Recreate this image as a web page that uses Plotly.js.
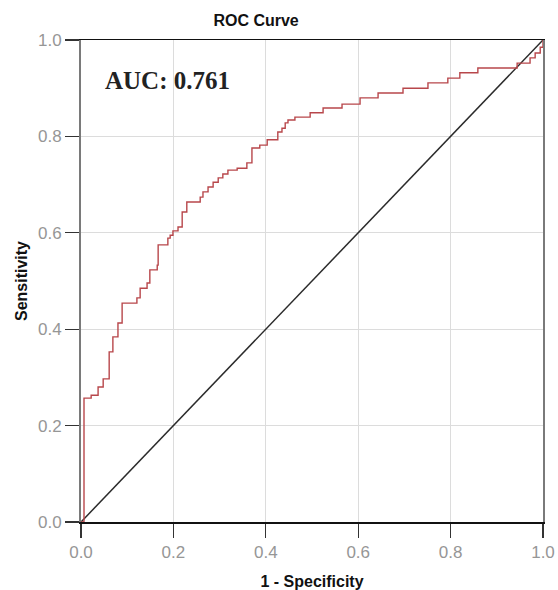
<!DOCTYPE html>
<html>
<head>
<meta charset="utf-8">
<script src="https://cdn.plot.ly/plotly-3.0.1.min.js"></script>
<style>
  html, body { margin: 0; padding: 0; background: #ffffff; }
  #chart { width: 558px; height: 590px; }
</style>
</head>
<body>
<div id="chart"></div>
<script>
// ROC curve points (1 - Specificity, Sensitivity)
const fpr = [0, 0.0065, 0.022, 0.037, 0.048, 0.061, 0.069, 0.080, 0.089, 0.121, 0.128, 0.143, 0.149, 0.165, 0.167,
  0.188, 0.193, 0.199, 0.210, 0.219, 0.229, 0.258, 0.264, 0.275, 0.286, 0.297, 0.307, 0.318, 0.338, 0.359,
  0.370, 0.387, 0.403, 0.426, 0.435, 0.442, 0.448, 0.463, 0.496, 0.524, 0.565, 0.604, 0.643, 0.697, 0.751,
  0.794, 0.820, 0.859, 0.944, 0.972, 0.983, 0.994, 1.0];
const tpr = [0, 0.257, 0.263, 0.280, 0.297, 0.353, 0.384, 0.413, 0.454, 0.465, 0.485, 0.496, 0.523, 0.533, 0.575,
  0.589, 0.595, 0.604, 0.612, 0.643, 0.664, 0.674, 0.685, 0.695, 0.705, 0.714, 0.722, 0.730, 0.734, 0.745,
  0.776, 0.782, 0.793, 0.809, 0.817, 0.828, 0.834, 0.840, 0.849, 0.859, 0.867, 0.880, 0.890, 0.900, 0.911,
  0.921, 0.932, 0.942, 0.952, 0.963, 0.973, 0.985, 1.0];
// Reference (chance) line
const refX = [0, 1];
const refY = [0, 1];
const tickVals = [0, 0.2, 0.4, 0.6, 0.8, 1.0];
const tickText = ["0.0", "0.2", "0.4", "0.6", "0.8", "1.0"];
const aucLabel = "AUC: 0.761";
const chartTitle = "ROC Curve";
const xTitle = "1 - Specificity";
const yTitle = "Sensitivity";

const traces = [
  {
    x: refX, y: refY, type: 'scatter', mode: 'lines',
    line: { color: '#2b2b2b', width: 1.5 },
    hoverinfo: 'skip', showlegend: false
  },
  {
    x: fpr, y: tpr, type: 'scatter', mode: 'lines',
    line: { color: '#b8474b', width: 1.4, shape: 'hv' },
    showlegend: false
  }
];

const axisCommon = {
  range: [0, 1],
  tickvals: tickVals,
  ticktext: tickText,
  ticks: 'outside',
  ticklen: 14,
  tickwidth: 1.2,
  tickcolor: '#333333',
  showgrid: true,
  gridcolor: '#dcdcdc',
  gridwidth: 1,
  zeroline: false,
  showline: true,
  mirror: true,
  tickfont: { family: 'Liberation Sans, Arial, sans-serif', size: 17, color: '#969696' },
  fixedrange: true
};

const layout = {
  width: 558, height: 590,
  margin: { l: 81, r: 15, t: 40, b: 68 },
  paper_bgcolor: '#ffffff',
  plot_bgcolor: '#ffffff',
  title: {
    text: '<b>' + chartTitle + '</b>',
    font: { family: 'Liberation Sans, Arial, sans-serif', size: 16, color: '#111111' },
    x: 0.379, xref: 'paper', xanchor: 'center',
    y: 22, yref: 'container', yanchor: 'middle'
  },
  xaxis: Object.assign({}, axisCommon, {
    linecolor: '#111111', linewidth: 1.5,
    title: {
      text: '<b>' + xTitle + '</b>',
      font: { family: 'Liberation Sans, Arial, sans-serif', size: 16, color: '#111111' },
      standoff: 15
    }
  }),
  yaxis: Object.assign({}, axisCommon, {
    linecolor: '#7a7a7a', linewidth: 2,
    title: {
      text: '<b>' + yTitle + '</b>',
      font: { family: 'Liberation Sans, Arial, sans-serif', size: 16, color: '#111111' },
      standoff: 6
    }
  }),
  annotations: [
    {
      x: 0.048, y: 0.915, xref: 'x', yref: 'y',
      xanchor: 'left', yanchor: 'middle',
      text: '<b>' + aucLabel + '</b>',
      showarrow: false,
      font: { family: 'Liberation Serif, Times New Roman, serif', size: 25, color: '#222222' }
    }
  ]
};

Plotly.newPlot('chart', traces, layout, { displayModeBar: false, staticPlot: true });
</script>
</body>
</html>
